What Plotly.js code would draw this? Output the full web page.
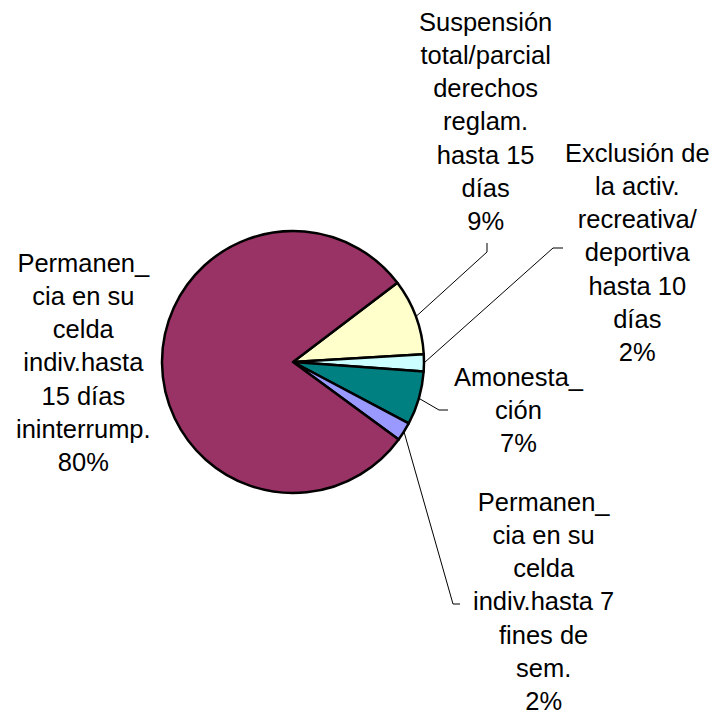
<!DOCTYPE html>
<html><head><meta charset="utf-8">
<script src="https://cdn.plot.ly/plotly-3.0.1.min.js"></script>
<style>html,body{margin:0;padding:0;background:#fff}</style>
</head><body><div id="chart" style="width:728px;height:719px"></div>
<script>
// ---- data ----
const categories = [
  "Suspensión total/parcial derechos reglam. hasta 15 días",
  "Exclusión de la activ. recreativa/ deportiva hasta 10 días",
  "Amonestación",
  "Permanencia en su celda indiv.hasta 7 fines de sem.",
  "Permanencia en su celda indiv.hasta 15 días ininterrump."
];
const labelText = [
  "Suspensión<br>total/parcial<br>derechos<br>reglam.<br>hasta 15<br>días",
  "Exclusión de<br>la activ.<br>recreativa/<br>deportiva<br>hasta 10<br>días",
  "Amonesta_<br>ción",
  "Permanen_<br>cia en su<br>celda<br>indiv.hasta 7<br>fines de<br>sem.",
  "Permanen_<br>cia en su<br>celda<br>indiv.hasta<br>15 días<br>ininterrump."
];
const values = [9.4, 2.1, 6.6, 2.3, 79.6];

// ---- styles / layout ----
const colors = ["#FFFFCC", "#CCFFFF", "#008080", "#9999FF", "#993366"];
const W = 728, H = 719;
const pieCx = 293, pieCy = 362, pieR = 131;
const rotation = 52.8;
const labelPos = [[486,121],[637,253],[519,410],[543,601],[83,362]];
const leaderBend = [[[487,252],[487,243]], [[553,248],[563,248]], [[439,410],[448,410]], [[453,604],[460,604]], null];
const fontFam = "Liberation Sans, Arial, sans-serif";
const fontSize = 25.5;

const total = values.reduce((a,b)=>a+b,0);
const px = x => x / W, py = y => 1 - y / H;

const annotations = [];
const shapes = [];
let cum = 0;
values.forEach((v,i)=>{
  const pct = Math.round(v/total*100) + "%";
  annotations.push({
    xref:'paper', yref:'paper', x: px(labelPos[i][0]), y: py(labelPos[i][1]),
    xanchor:'center', yanchor:'middle', align:'center', showarrow:false,
    text: labelText[i] + "<br>" + pct,
    font:{family:fontFam, size:fontSize, color:'#000'}
  });
  const mid = (rotation + (cum + v/2)/total*360) * Math.PI/180;
  cum += v;
  if (leaderBend[i]) {
    const sx = pieCx + pieR*Math.sin(mid), sy = pieCy - pieR*Math.cos(mid);
    const b = leaderBend[i];
    shapes.push({
      type:'path', xref:'paper', yref:'paper',
      path: `M ${px(sx)} ${py(sy)} L ${px(b[0][0])} ${py(b[0][1])} L ${px(b[1][0])} ${py(b[1][1])}`,
      line:{color:'#000', width:1}
    });
  }
});

const trace = {
  type:'pie', labels: categories, values: values, sort:false,
  direction:'clockwise', rotation: rotation,
  textinfo:'none', hoverinfo:'label+percent',
  marker:{colors: colors, line:{color:'#000', width:2.5}},
  domain:{x:[px(pieCx-pieR), px(pieCx+pieR)], y:[py(pieCy+pieR), py(pieCy-pieR)]}
};

Plotly.newPlot('chart', [trace], {
  width:W, height:H, margin:{l:0,r:0,t:0,b:0},
  paper_bgcolor:'#fff', plot_bgcolor:'#fff', showlegend:false,
  annotations: annotations, shapes: shapes,
  font:{family:fontFam}
}, {displayModeBar:false, staticPlot:true});
</script></body></html>
